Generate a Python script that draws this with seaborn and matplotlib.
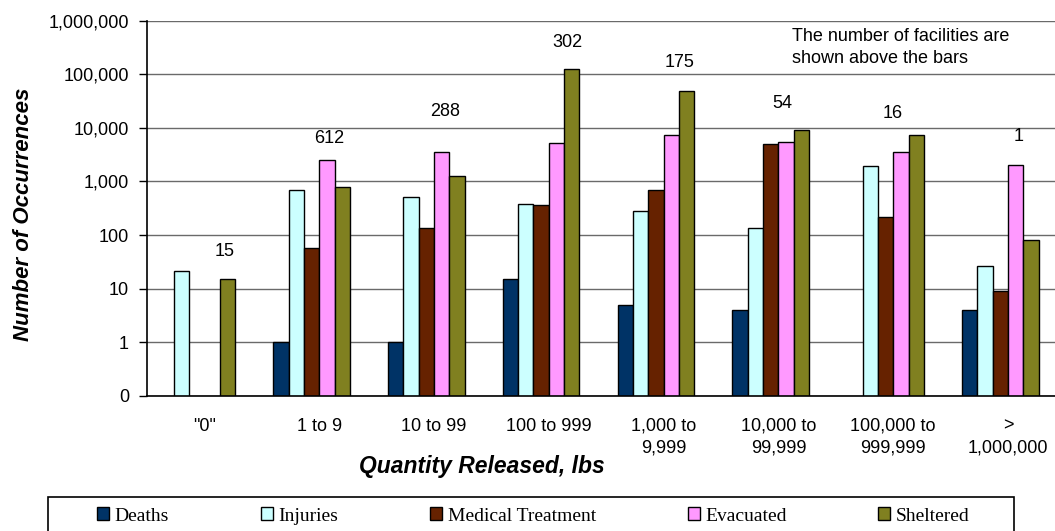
import numpy as np
import pandas as pd
import matplotlib
matplotlib.use("Agg")
import matplotlib.pyplot as plt
import seaborn as sns
from matplotlib.patches import Patch, Rectangle
from matplotlib.ticker import NullLocator

nan = np.nan

# Release size classes (x categories)
categories = ['"0"', "1 to 9", "10 to 99", "100 to 999", "1,000 to\n9,999",
              "10,000 to\n99,999", "100,000 to\n999,999", ">\n1,000,000"]

# Occurrences per consequence type (missing = no occurrences reported)
deaths = [nan, 1, 1, 15, 5, 4, nan, 4]
injuries = [21, 690, 510, 380, 280, 135, 1900, 27]
medical = [nan, 58, 135, 370, 680, 4900, 220, 9]
evacuated = [nan, 2560, 3600, 5200, 7400, 5500, 3500, 2000]
sheltered = [15, 800, 1250, 125000, 48000, 9000, 7400, 80]

# Number of facilities in each size class
facilities = [15, 612, 288, 302, 175, 54, 16, 1]

series_names = ["Deaths", "Injuries", "Medical Treatment", "Evacuated", "Sheltered"]
series_values = [deaths, injuries, medical, evacuated, sheltered]
colors = ["#003366", "#CCFFFF", "#662200", "#FF99FF", "#808020"]

y_ticks = [0.1, 1, 10, 100, 1000, 10000, 100000, 1000000]
y_ticklabels = ["0", "1", "10", "100", "1,000", "10,000", "100,000", "1,000,000"]

# Long-form table; a blank sixth series keeps an empty slot at the right of each group
rows = []
for name, vals in zip(series_names, series_values):
    for cat, v in zip(categories, vals):
        rows.append({"Quantity": cat, "Series": name, "Occurrences": v})
for cat in categories:
    rows.append({"Quantity": cat, "Series": " ", "Occurrences": nan})
df = pd.DataFrame(rows)
hue_order = series_names + [" "]
palette = dict(zip(series_names, colors))
palette[" "] = "#FFFFFF"

sns.set_style("white")
plt.rcParams["font.family"] = ["Liberation Sans", "DejaVu Sans"]
plt.rcParams["text.color"] = "black"
plt.rcParams["axes.labelcolor"] = "black"
plt.rcParams["xtick.color"] = "black"
plt.rcParams["ytick.color"] = "black"

W, H = 1055, 531
fig = plt.figure(figsize=(W / 100, H / 100), dpi=100)
ax_left, ax_right, ax_top, ax_bottom = 147, 147 + 8 * 114.8, 20.5, 396
ax = fig.add_axes([ax_left / W, 1 - ax_bottom / H,
                   (ax_right - ax_left) / W, (ax_bottom - ax_top) / H])

sns.barplot(data=df, x="Quantity", y="Occurrences", hue="Series",
            order=categories, hue_order=hue_order, palette=palette,
            saturation=1, errorbar=None, width=0.8, edgecolor="black",
            linewidth=1.0, log_scale=(False, True), legend=False, ax=ax)

ax.set_yscale("log")
ax.set_ylim(0.1, 1e6)
ax.set_yticks(y_ticks)
ax.set_yticklabels(y_ticklabels)
ax.yaxis.set_minor_locator(NullLocator())
ax.set_xlim(-0.5, len(categories) - 0.5)
ax.set_xticks(range(len(categories)))
ax.set_xticklabels(categories, fontsize=13, linespacing=1.35)
ax.set_xticks(np.arange(-0.5, len(categories), 1.0), minor=True)
ax.tick_params(axis="x", which="major", length=0, pad=15.5, colors="black")
ax.tick_params(axis="x", which="minor", length=4, width=1, color="black", direction="out")
ax.tick_params(axis="y", which="major", length=6, width=1, colors="black",
               direction="out", pad=7, labelsize=13, left=True)
ax.set_xlabel("")
ax.set_ylabel("")

ax.set_axisbelow(True)
ax.yaxis.grid(True, color="#6a6a6a", linewidth=1.0)
ax.xaxis.grid(False)
for side in ("top", "right"):
    ax.spines[side].set_visible(False)
for side in ("left", "bottom"):
    ax.spines[side].set_color("black")
    ax.spines[side].set_linewidth(1.2)

# Facility counts above each group (offsets in points from the tallest bar)
label_dx = [14.8, 7.0, 7.9, 13.1, 11.8, 2.6, -0.7, 7.9]
label_dy = [14.1, 15.3, 29.0, 19.2, 20.4, 19.4, 15.6, 20.4]
for i, n in enumerate(facilities):
    top = np.nanmax([vals[i] for vals in series_values])
    ax.annotate(f"{n}", xy=(i, top), xytext=(label_dx[i], label_dy[i]),
                textcoords="offset points", ha="center", va="center",
                fontsize=13, color="black")

fig.text(792 / W, 1 - 47.5 / H, "The number of facilities are\nshown above the bars",
         ha="left", va="center", fontsize=13, linespacing=1.45)

fig.text(24 / W, 1 - 214 / H, "Number of Occurrences", rotation=90,
         ha="center", va="center", fontsize=16, fontweight="bold", fontstyle="italic")
fig.text(482 / W, 1 - 467 / H, "Quantity Released, lbs",
         ha="center", va="center", fontsize=16.5, fontweight="bold", fontstyle="italic")

# Legend in a framed box along the bottom edge
handles = [Patch(facecolor=c, edgecolor="black", linewidth=1.0) for c in colors]
leg = fig.legend(handles, series_names, loc="center", ncol=5, mode="expand",
                 bbox_to_anchor=(97 / W, 1 - 516 / H - 0.01, (970 - 97) / W, 0.02),
                 frameon=False, borderpad=0, borderaxespad=0,
                 handlelength=0.62, handleheight=0.62, handletextpad=0.3,
                 prop={"family": "Liberation Serif", "size": 14})
fig.patches.append(Rectangle((48 / W, -0.1), (1014 - 48) / W, 0.1 + (1 - 497 / H),
                             transform=fig.transFigure, fill=False,
                             edgecolor="black", linewidth=1.2))

fig.savefig("out.png", dpi=100)
